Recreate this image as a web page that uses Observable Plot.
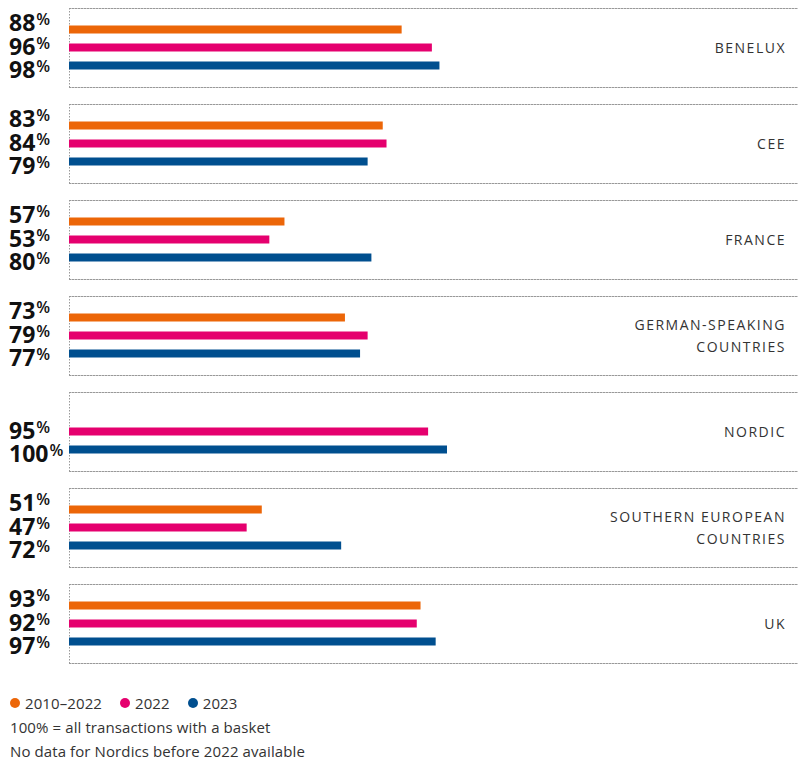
<!DOCTYPE html>
<html>
<head>
<meta charset="utf-8">
<script src="https://cdn.jsdelivr.net/npm/d3@7"></script>
<script src="https://cdn.jsdelivr.net/npm/@observablehq/plot@0.6"></script>
<style>
  html, body { margin: 0; padding: 0; background: #fff; overflow: hidden; }
  body { width: 798px; font-family: "Open Sans", sans-serif; }
  #chart svg { display: block; }
  .legend { padding: 10px 0 0 10px; font-size: 15px; letter-spacing: 0.1px; line-height: 24px; color: #333; }
  .legend .item { display: inline-flex; align-items: center; margin-right: 18px; }
  .legend .dot { display: inline-block; width: 10px; height: 10px; border-radius: 50%; margin-right: 5px; }
</style>
</head>
<body>
<div id="chart"></div>
<div class="legend" id="legend"></div>
<script>
const regions = ["Benelux", "CEE", "France", "German-speaking countries", "Nordic", "Southern European countries", "UK"];
const regionLabels = ["BENELUX", "CEE", "FRANCE", "GERMAN-SPEAKING\nCOUNTRIES", "NORDIC", "SOUTHERN EUROPEAN\nCOUNTRIES", "UK"];
const series = ["2010–2022", "2022", "2023"];
const values2010to2022 = [88, 83, 57, 73, null, 51, 93];
const values2022 = [96, 84, 53, 79, 95, 47, 92];
const values2023 = [98, 79, 80, 77, 100, 72, 97];
const colors = ["#ec6608", "#e5006e", "#004f8f"];
const notes = ["100% = all transactions with a basket", "No data for Nordics before 2022 available"];

const seriesValues = [values2010to2022, values2022, values2023];
const rows = [];
regions.forEach((r, i) => {
  series.forEach((s, j) => {
    const v = seriesValues[j][i];
    if (v != null) rows.push({region: r, series: s, value: v});
  });
});
const labelText = (d, i) => seriesValues.map(arr => arr[i] == null ? "" : arr[i] + "%").join("\n");

const dotted = {stroke: "#999", strokeDasharray: "1.5,1.5", strokeWidth: 1};

const chart = Plot.plot({
  width: 798,
  height: 680,
  marginTop: 7.5,
  marginBottom: 16.5,
  marginLeft: 69,
  marginRight: 0,
  style: {fontFamily: "'Open Sans', sans-serif", background: "white"},
  x: {domain: [0, 100], range: [69, 447], axis: null},
  y: {domain: series, paddingInner: 0.579, paddingOuter: 0.881, axis: null},
  fy: {domain: regions, paddingInner: 0.173, paddingOuter: 0, axis: null},
  color: {domain: series, range: colors},
  marks: [
    Plot.frame({anchor: "top", ...dotted}),
    Plot.frame({anchor: "bottom", ...dotted}),
    Plot.ruleX([0], dotted),
    Plot.barX(rows, {x: "value", y: "series", fy: "region", fill: "series"}),
    Plot.text(regions, {
      fy: d => d, text: (d, i) => regionLabels[i], frameAnchor: "right", textAnchor: "end",
      dx: -12.5, dy: -2, fontSize: 14, lineHeight: 1.6, fill: "#333"
    }),
    Plot.text(regions, {
      fy: d => d, text: labelText, frameAnchor: "left", textAnchor: "start",
      dx: -60.5, dy: -1, fontSize: 23, fontWeight: 700, lineHeight: 1.02, fill: "#111"
    })
  ]
});

const SVGNS = "http://www.w3.org/2000/svg";
chart.querySelectorAll("text").forEach(txt => {
  const content = txt.textContent;
  if (content.includes("%")) {
    // superscript the percent sign on value labels
    let lines = Array.from(txt.querySelectorAll(":scope > tspan"));
    if (lines.length === 0) {
      const t = document.createElementNS(SVGNS, "tspan");
      t.textContent = content;
      txt.textContent = "";
      txt.appendChild(t);
      lines = [t];
    }
    let yEm = 0;
    lines.forEach(t => {
      if (t.hasAttribute("y")) yEm = parseFloat(t.getAttribute("y"));
      else if (t.hasAttribute("dy")) yEm += parseFloat(t.getAttribute("dy"));
      t.removeAttribute("dy");
      t.setAttribute("y", yEm + "em");
      t.setAttribute("x", "0");
      const s = t.textContent;
      if (s.endsWith("%")) {
        t.textContent = s.slice(0, -1);
        const p = document.createElementNS(SVGNS, "tspan");
        p.textContent = "%";
        p.setAttribute("font-size", "16");
        p.setAttribute("font-weight", "600");
        p.setAttribute("dx", "1");
        p.setAttribute("dy", "-6");
        t.appendChild(p);
      }
    });
  } else if (/^[A-Z\s\-]+$/.test(content)) {
    txt.setAttribute("letter-spacing", "1.5");
    txt.style.letterSpacing = "1.5px";
  }
});

document.getElementById("chart").appendChild(chart);

const legend = document.getElementById("legend");
const row = document.createElement("div");
series.forEach((s, j) => {
  const item = document.createElement("span");
  item.className = "item";
  const dot = document.createElement("span");
  dot.className = "dot";
  dot.style.background = colors[j];
  item.appendChild(dot);
  item.appendChild(document.createTextNode(s));
  row.appendChild(item);
});
legend.appendChild(row);
notes.forEach(n => {
  const d = document.createElement("div");
  d.textContent = n;
  legend.appendChild(d);
});
</script>
</body>
</html>
